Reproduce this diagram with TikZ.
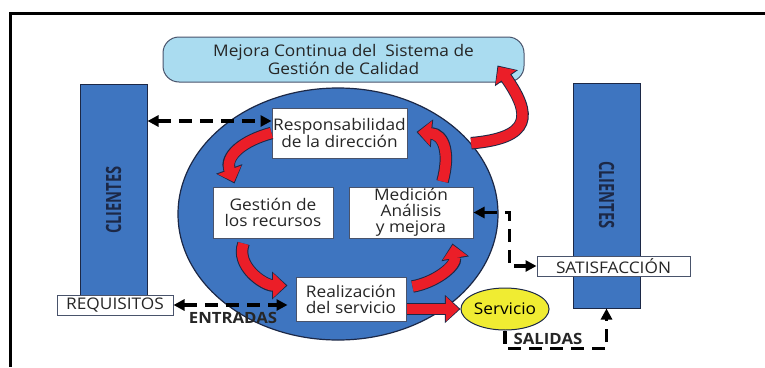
\documentclass[tikz,border=0pt]{standalone}
\usepackage{fontspec}
\setmainfont{Open Sans}[FakeStretch=1.08]
\newfontfamily\estrecha{Open Sans}[FakeStretch=0.7]
\usetikzlibrary{arrows.meta,shapes.geometric}

\definecolor{azul}{RGB}{62,117,192}
\definecolor{borde}{RGB}{28,40,70}
\definecolor{celeste}{RGB}{170,220,240}
\definecolor{amarillo}{RGB}{240,236,50}
\definecolor{rojo}{RGB}{235,30,40}

\tikzset{
  caja/.style={draw=borde!80, fill=white, line width=1pt, align=center, inner sep=1pt, text=black!85},
  barra/.style={draw=borde, fill=azul, line width=1pt},
  rotulo/.style={text=borde, font=\estrecha\bfseries\fontsize{21}{21}\selectfont},
  flecha/.style={line width=10.5pt, draw=rojo, shorten >=1.5pt, -{Triangle[width=24pt,length=13pt]},
    preaction={draw=borde, line width=12.5pt, shorten >=0pt, -{Triangle[width=27pt,length=15.5pt]}}},
  trazo/.style={line width=3.2pt, dash pattern=on 13pt off 8pt},
  etiqueta/.style={font=\bfseries\fontsize{15.5}{15.5}\selectfont, text=black!85}
}

\begin{document}
\begin{tikzpicture}[x=1pt, y=1pt, >={Triangle[width=11pt,length=11pt]},
    font=\fontsize{16}{16}\selectfont]
  \useasboundingbox (0,0) rectangle (765,-367);

  % Marco
  \draw[line width=3pt] (765,-13) -- (10,-13) -- (10,-367);

  % Clientes
  \node[barra, minimum width=67pt, minimum height=212pt] (cliA) at (113.5,-190) {};
  \node[rotulo, rotate=90] (txtA) at (113.5,-200) {CLIENTES};
  \node[barra, minimum width=67pt, minimum height=225pt] (cliB) at (606.5,-195.5) {};
  \node[rotulo, rotate=-90] (txtB) at (606.5,-195) {CLIENTES};

  % Mejora continua
  \node[caja, fill=celeste, rounded corners=16pt, minimum width=361pt, minimum height=45pt,
    font=\fontsize{16}{18}\selectfont]
    (mejora) at (343.5,-59.5) {Mejora Continua del\ \ Sistema de\\Gestión de Calidad};

  % Sistema
  \node[ellipse, draw=borde, line width=1.2pt, fill=azul, minimum width=320pt, minimum height=252pt]
    (sgc) at (338,-214) {};

  \node[caja, minimum width=135pt, minimum height=50pt] (resp) at (339.5,-133)
    {Responsabilidad\\de la dirección};
  \node[caja, minimum width=120pt, minimum height=51pt] (gestion) at (273,-212.5)
    {Gestión de\\los recursos};
  \node[caja, minimum width=124pt, minimum height=51pt] (medicion) at (411,-212.5)
    {Medición\\Análisis\\y mejora};
  \node[caja, minimum width=110pt, minimum height=44pt] (realiz) at (351,-299)
    {Realización\\del servicio};

  \node[caja, minimum width=116pt, minimum height=20pt] (requisitos) at (115,-305) {REQUISITOS};
  \node[caja, minimum width=153pt, minimum height=20pt] (satisf) at (613.5,-266) {SATISFACCIÓN};
  \node[ellipse, draw=borde, line width=1pt, fill=amarillo, minimum width=82pt, minimum height=42pt,
    inner sep=0pt] (servicio) at (505,-309) {Servicio};

  % Ciclo
  \draw[flecha] (resp.west) to[out=195,in=110,looseness=1.2] ([shift={(22,3)}]gestion.north west);
  \draw[flecha] ([shift={(31,-5)}]gestion.south west) to[out=-110,in=180] ([shift={(-8,-9)}]realiz.north west);
  \draw[flecha] ([shift={(6,-10)}]realiz.north east) to[out=10,in=-80] ([shift={(-21,-5)}]medicion.south east);
  \draw[flecha] ([shift={(-31,5)}]medicion.north east) to[out=75,in=-5,looseness=1.3] ([shift={(9,1)}]resp.east);
  \draw[flecha] (sgc.28) to[out=5,in=-55,looseness=1.9] ([shift={(-27,17)}]mejora.south east);
  \draw[flecha] (realiz.east |- servicio.west) -- (servicio.west);

  % Entradas y salidas
  \draw[trazo,<->] (cliA.east |- resp.170) -- (resp.170);
  \draw[trazo,<->,shorten >=8pt] (requisitos.east) -- (requisitos.east -| realiz.west);
  \node[etiqueta] (entradas) at (233,-318) {ENTRADAS};
  \draw[trazo,<->] (medicion.east) -| ([xshift=-27pt]satisf.west) -- (satisf.west);
  \draw[trazo,->] (servicio.south) |- ([yshift=-40pt]cliB.south) -- (cliB.south);
  \node[etiqueta] (salidas) at (548,-339) {SALIDAS};
\end{tikzpicture}
\end{document}
